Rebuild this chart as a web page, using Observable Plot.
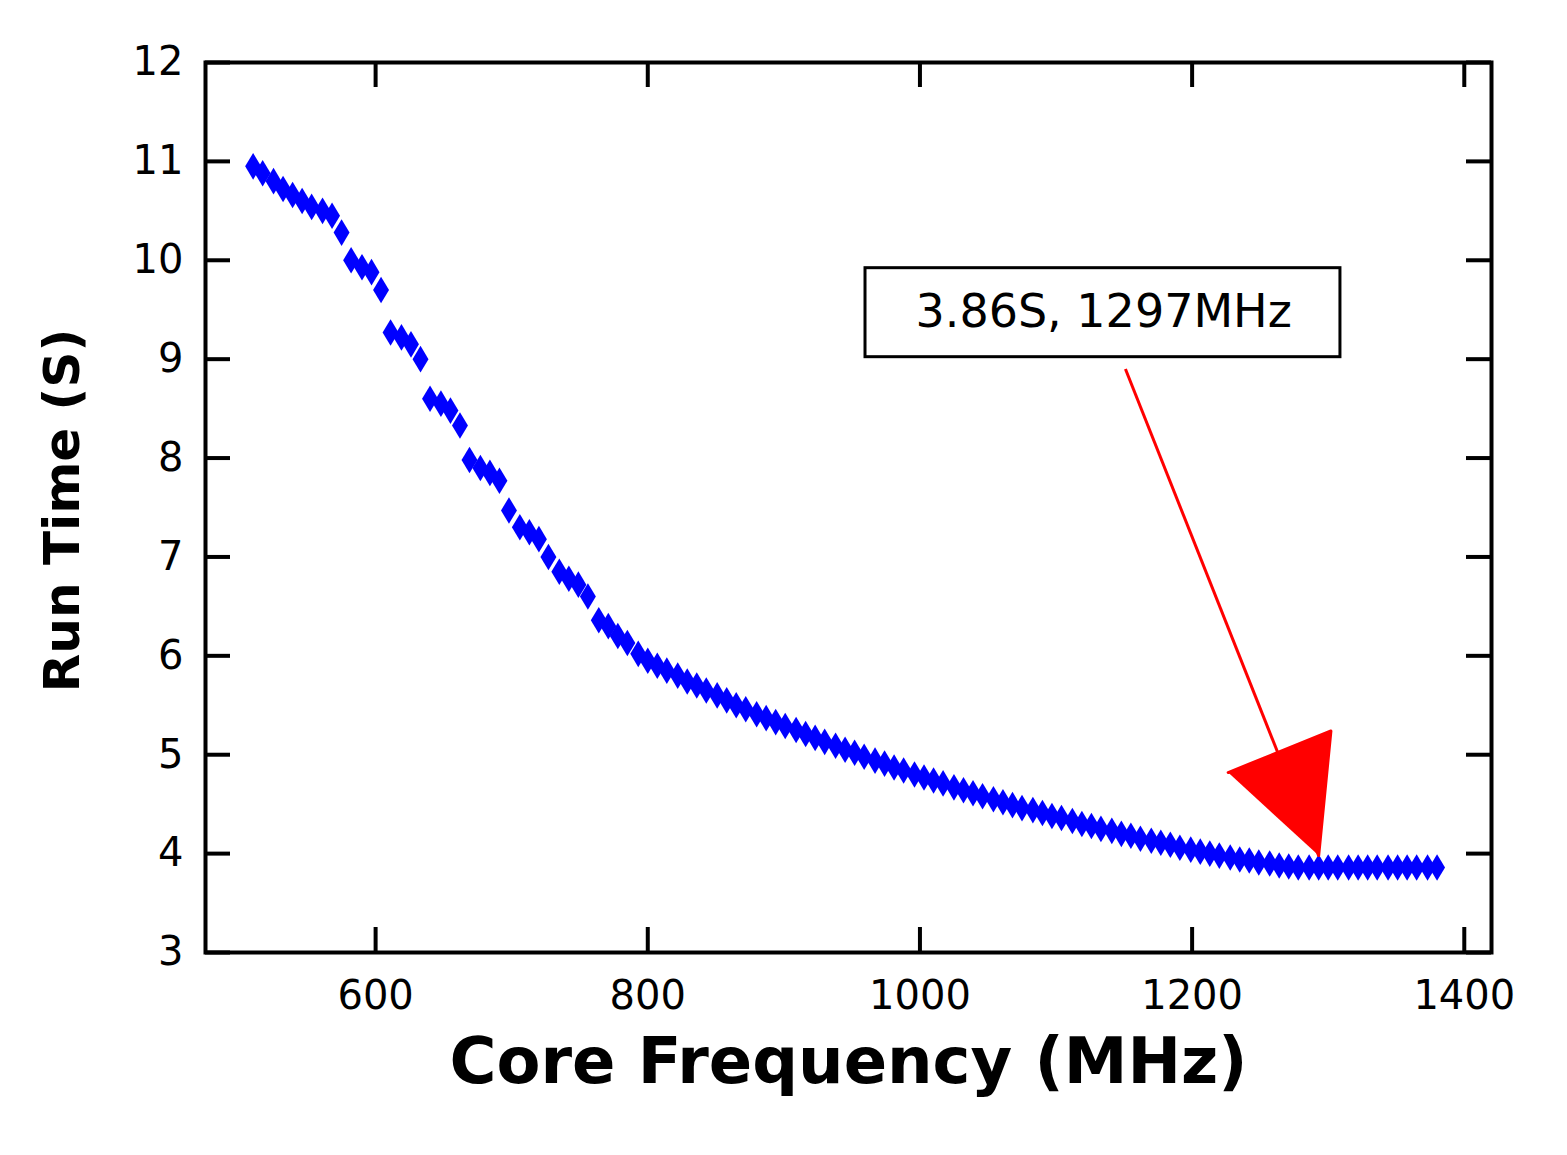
<!DOCTYPE html>
<html>
<head>
<meta charset="utf-8">
<script src="https://cdn.jsdelivr.net/npm/d3@7"></script>
<script src="https://cdn.jsdelivr.net/npm/@observablehq/plot@0.6"></script>
<style>
  body { margin: 0; background: #fff; }
  svg { font-family: "DejaVu Sans", sans-serif; }
</style>
</head>
<body>
<div id="chart"></div>
<script>
const freq = [510, 517, 525, 532, 539, 546, 553, 561, 568, 575, 582, 590, 597, 604, 611, 619, 626, 633, 640, 648,
  655, 662, 669, 677, 684, 691, 698, 706, 713, 720, 727, 735, 742, 749, 756, 764, 771, 778, 785, 793,
  800, 807, 814, 822, 829, 836, 843, 851, 858, 865, 872, 880, 887, 894, 901, 909, 916, 923, 930, 938,
  945, 952, 959, 967, 974, 981, 988, 996, 1003, 1010, 1017, 1025, 1032, 1039, 1046, 1054, 1061, 1068, 1075, 1083,
  1090, 1097, 1104, 1112, 1119, 1126, 1133, 1141, 1148, 1155, 1162, 1170, 1177, 1184, 1191, 1199, 1206, 1213, 1220, 1228,
  1235, 1242, 1249, 1257, 1264, 1271, 1278, 1286, 1293, 1300, 1307, 1315, 1322, 1329, 1336, 1344, 1351, 1358, 1365, 1373, 1380]
const runTime = [10.95, 10.88, 10.8, 10.72, 10.66, 10.6, 10.54, 10.5, 10.45, 10.28, 10.0, 9.93, 9.88, 9.7, 9.27, 9.22, 9.15, 9.0, 8.6, 8.55,
  8.48, 8.33, 7.98, 7.9, 7.85, 7.77, 7.47, 7.3, 7.25, 7.18, 7.0, 6.85, 6.78, 6.72, 6.6, 6.36, 6.3, 6.2, 6.13, 6.02,
  5.95, 5.9, 5.85, 5.8, 5.74, 5.7, 5.65, 5.6, 5.55, 5.5, 5.46, 5.41, 5.37, 5.33, 5.29, 5.25, 5.21, 5.17, 5.13, 5.09,
  5.05, 5.02, 4.98, 4.94, 4.91, 4.87, 4.84, 4.8, 4.77, 4.74, 4.71, 4.67, 4.64, 4.61, 4.58, 4.55, 4.52, 4.49, 4.46, 4.44,
  4.41, 4.38, 4.36, 4.33, 4.3, 4.28, 4.25, 4.23, 4.2, 4.18, 4.15, 4.13, 4.11, 4.09, 4.06, 4.04, 4.02, 4.0, 3.98, 3.96,
  3.94, 3.93, 3.91, 3.9, 3.88, 3.87, 3.86, 3.86, 3.86, 3.86, 3.86, 3.86, 3.86, 3.86, 3.86, 3.86, 3.86, 3.86, 3.86, 3.86, 3.86]
const xTicks = [600, 800, 1000, 1200, 1400]
const yTicks = [3, 4, 5, 6, 7, 8, 9, 10, 11, 12]
const noteText = ['3.86S, 1297MHz']
const noteAt = [1135, 9.47]
const noteBox = [960, 1309, 9.02, 9.92]
const arrowX = [1151, 1293]
const arrowY = [8.9, 3.98]
const headX = [1226.5, 1302, 1293]
const headY = [4.82, 5.24, 3.98]

const data = freq.map((f, i) => ({f, t: runTime[i]}))
const head = headX.map((x, i) => ({x, y: headY[i]}))

// thin tall diamond like matplotlib 'd'
const thinDiamond = {
  draw(ctx, size) {
    const h = Math.sqrt(size), w = h * 0.6
    ctx.moveTo(0, -h); ctx.lineTo(w, 0); ctx.lineTo(0, h); ctx.lineTo(-w, 0); ctx.closePath()
  }
}

const chart = Plot.plot({
  width: 1567,
  height: 1155,
  marginLeft: 205,
  marginRight: 76,
  marginTop: 62,
  marginBottom: 203,
  style: {fontSize: '40px', fontFamily: 'DejaVu Sans, sans-serif', color: '#000'},
  x: {domain: [475, 1420]},
  y: {domain: [3, 12]},
  marks: [
    Plot.frame({stroke: '#000', strokeWidth: 4}),
    Plot.axisX(xTicks, {tickSize: 0, tickPadding: 28, tickFormat: 'd', label: null, fontSize: 40}),
    Plot.axisY(yTicks, {tickSize: 0, tickPadding: 22, tickFormat: 'd', label: null, fontSize: 40}),
    Plot.tickX(xTicks, {x: d => d, insetTop: 865, stroke: '#000', strokeWidth: 4}),
    Plot.tickX(xTicks, {x: d => d, insetBottom: 865, stroke: '#000', strokeWidth: 4}),
    Plot.tickY(yTicks, {y: d => d, insetRight: 1261, stroke: '#000', strokeWidth: 4}),
    Plot.tickY(yTicks, {y: d => d, insetLeft: 1261, stroke: '#000', strokeWidth: 4}),
    Plot.dot(data, {x: 'f', y: 't', symbol: thinDiamond, r: 7.5, fill: '#0000ff', stroke: 'none'}),
    Plot.link([0], {x1: arrowX[0], y1: arrowY[0], x2: arrowX[1], y2: arrowY[1], stroke: 'red', strokeWidth: 3}),
    Plot.line(head, {x: 'x', y: 'y', fill: 'red', stroke: 'red', strokeWidth: 3, strokeLinejoin: 'round'}),
    Plot.rect([0], {x1: noteBox[0], x2: noteBox[1], y1: noteBox[2], y2: noteBox[3], fill: '#fff', stroke: '#000', strokeWidth: 3}),
    Plot.text(noteText, {x: noteAt[0], y: noteAt[1], text: d => d, fontSize: 46, fill: '#000'}),
    Plot.text(['Core Frequency (MHz)'], {frameAnchor: 'bottom', dy: 130, text: d => d, fontSize: 64, fontWeight: 'bold'}),
    Plot.text(['Run Time (S)'], {x: 370, y: 7.47, rotate: -90, clip: false, text: d => d, fontSize: 50, fontWeight: 'bold'})
  ]
})

d3.select('#chart').append(() => chart)
</script>
</body>
</html>
